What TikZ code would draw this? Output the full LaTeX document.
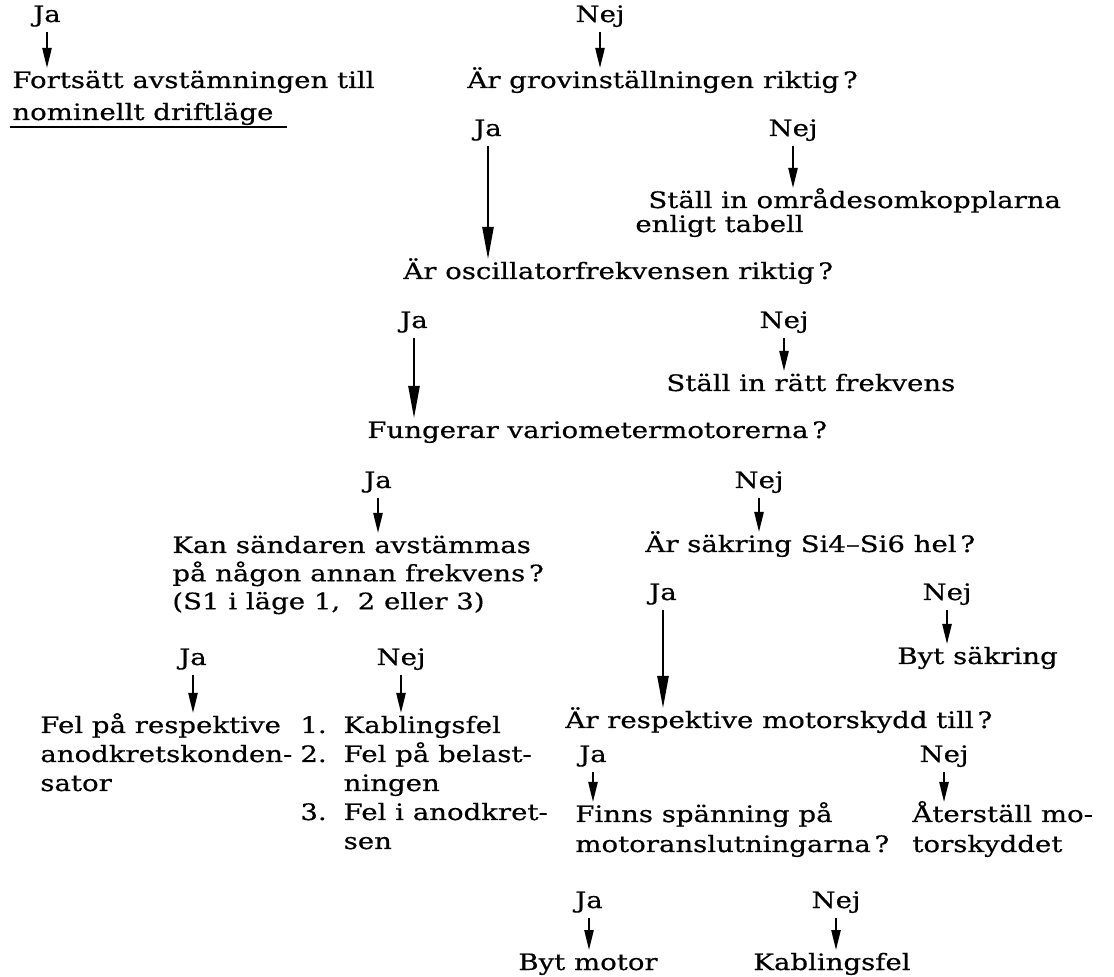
\documentclass[tikz,border=0pt]{standalone}
\usepackage{fontspec}
\setmainfont{DejaVu Serif}[FakeStretch=1.22, FakeBold=0.5]
\usetikzlibrary{arrows.meta}

% several lines in one node, baseline on the first line
\newcommand{\lns}[1]{\begin{tabular}[t]{@{}l@{}}#1\end{tabular}}

\tikzset{
  txt/.style={anchor=base west, inner sep=0pt, text height=9.8pt},
  lab/.style={anchor=base, inner sep=0pt, text depth=0pt},
  arr/.style={line width=0.9pt, -{Triangle[length=10pt,width=4.6pt]}, shorten <=5pt},
  arrl/.style={arr, -{Triangle[length=16pt,width=5.6pt]}},
  wide/.style={font=\fontsize{11.3}{14.5}\selectfont},
  wider/.style={font=\fontsize{11.3}{15}\selectfont}
}

\begin{document}
\begin{tikzpicture}[x=0.5pt, y=-0.5pt, font=\fontsize{11.3}{14}\selectfont]
		\useasboundingbox (0,0) rectangle (1114,977);
		
		% questions and answers
		\node[txt] (fort) at (12,88) {Fortsätt avstämningen till};
		\node[txt] (nom) at (12,120) {nominellt driftläge};
		\node[txt] (grov) at (467,88) {Är grovinställningen riktig\,?};
		\node[txt] (omr) at (648,208) {Ställ in områdesomkopplarna};
		\node[txt] (tab) at (635,232) {enligt tabell};
		\node[txt] (osc) at (403,279) {Är oscillatorfrekvensen riktig\,?};
		\node[txt] (ratt) at (666,391) {Ställ in rätt frekvens};
		\node[txt] (fung) at (367,438) {Fungerar variometermotorerna\,?};
		\node[txt] (kan) at (172,553) {\lns{Kan sändaren avstämmas\\på någon annan frekvens\,?\\(S1 i läge 1,\ \ 2 eller 3)}};
		\node[txt] (sak) at (645,552) {Är säkring Si4–Si6 hel\,?};
		\node[txt] (byts) at (897,664) {Byt säkring};
		\node[txt,wide] (fpr) at (40,733) {\lns{Fel på respektive\\anodkretskonden-\\sator}};
		\node[txt,wide] (kab) at (300,733) {\begin{tabular}[t]{@{}l@{\hspace{8.5pt}}l@{}}
				1.&Kablingsfel\\2.&Fel på belast-\\&ningen\\3.&Fel i anodkret-\\&sen\end{tabular}};
		\node[txt] (resp) at (565,728) {Är respektive motorskydd till\,?};
		\node[txt,wider] (finns) at (575,822) {\lns{Finns spänning på\\motoranslutningarna\,?}};
		\node[txt,wider] (ater) at (912,822) {\lns{Återställ mo-\\torskyddet}};
		\node[txt] (bytm) at (518,970) {Byt motor};
		\node[txt] (kabf) at (753,970) {Kablingsfel};
		
		% underline below the first answer
		\draw[line width=0.8pt] (nom.base west) ++(-2,7) -- ++(277,0);
		
		% Ja / Nej labels
		\foreach \mynode/\mytext/\x/\y in {ja1/Ja/47/22, nej1/Nej/600/22,
			ja2/Ja/488/136, nej2/Nej/793/136, ja3/Ja/414/328, nej3/Nej/784/328,
			ja4/Ja/378/488, nej4/Nej/759/488, ja5/Ja/663/600, nej5/Nej/947/600,
			ja6/Ja/193/665, nej6/Nej/401/665, ja7/Ja/593/762, nej7/Nej/944/762,
			ja8/Ja/589/908, nej8/Nej/836/908} {
			\node[lab] (\mynode) at (\x,\y) {\mytext};
		}
		
		% short arrows down to the next text
		\foreach \mynode/\mytarget in {ja1/fort, nej1/grov, nej2/omr, nej3/ratt,
			ja4/kan, nej4/sak, nej5/byts, ja6/fpr, nej6/kab, ja7/finns,
			nej7/ater, ja8/bytm, nej8/kabf} {
			\draw[arr] (\mynode.south) -- (\mynode.south |- \mytarget.north);
		}
		
		% long arrows
		\foreach \mynode/\mytarget in {ja2/osc, ja3/fung, ja5/resp} {
			\draw[arrl] (\mynode.south) -- (\mynode.south |- \mytarget.north);
		}
\end{tikzpicture}
\end{document}
